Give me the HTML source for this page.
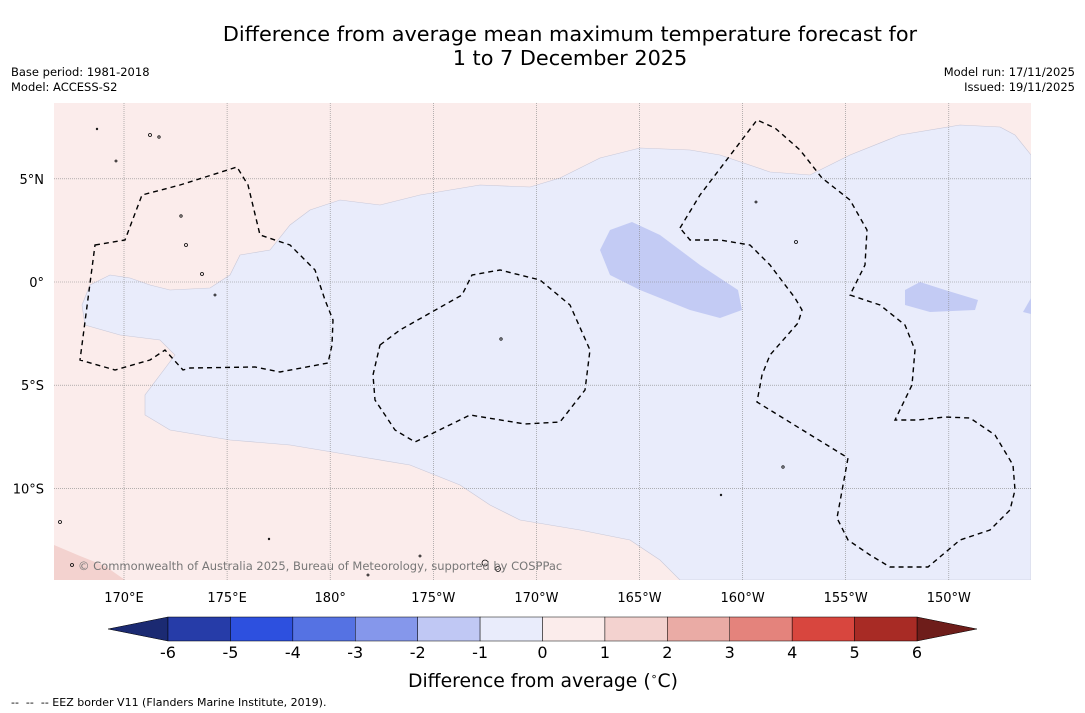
<!DOCTYPE html>
<html><head><meta charset="utf-8"><style>
body{margin:0;width:1085px;height:713px;background:#fff;font-family:"DejaVu Sans","Liberation Sans",sans-serif;overflow:hidden;position:relative}
.t{position:absolute;white-space:nowrap}
</style></head><body>
<div class="t" style="left:0;width:1140px;text-align:center;top:22px;font-size:20.8px;line-height:24px;color:#000">Difference from average mean maximum temperature forecast for<br>1 to 7 December 2025</div>
<div class="t" style="left:11px;top:65px;font-size:11.5px;line-height:15px">Base period: 1981-2018<br>Model: ACCESS-S2</div>
<div class="t" style="right:10px;top:65px;font-size:11.5px;line-height:15px;text-align:right">Model run: 17/11/2025<br>Issued: 19/11/2025</div>
<svg id="map" width="1085" height="713" style="position:absolute;left:0;top:0" font-family="DejaVu Sans, sans-serif">
<defs><clipPath id="c"><rect x="54" y="103" width="977" height="477"/></clipPath></defs>
<g clip-path="url(#c)">
<rect x="54" y="103" width="977" height="477" fill="#fbeceb"/>
<path d="M54,545 L80,556 L105,566 L125,580 L54,580Z" fill="#f3d2cf"/>
<path fill="#e9ecfb" stroke="#c8c8d8" stroke-width="0.6" d="M1031,155 L1015,135 L1000,127 L960,125 L900,135 L850,155 L810,175 L770,172 L720,155 L690,150 L640,148 L600,158 L560,178 L530,187 L480,185 L420,195 L380,205 L340,200 L310,210 L290,225 L270,250 L240,255 L230,275 L210,288 L170,290 L150,285 L130,278 L110,275 L90,285 L82,305 L85,325 L120,335 L160,340 L175,355 L160,375 L145,395 L145,415 L170,430 L230,440 L290,445 L350,455 L410,465 L460,485 L490,505 L520,520 L580,530 L630,540 L660,560 L680,580 L1031,580Z"/>
<path fill="#c3cbf4" d="M600,250 L610,230 L632,222 L660,235 L700,265 L738,290 L742,310 L720,318 L690,310 L640,290 L610,275Z"/>
<path fill="#c3cbf4" d="M905,290 L920,282 L945,290 L978,300 L975,310 L930,312 L905,305Z"/>
<path fill="#c3cbf4" d="M1023,312 L1031,298 L1031,314Z"/>
<g id="grid" stroke="#888" stroke-width="0.6" stroke-dasharray="1,1"></g>
<g fill="none" stroke="#000" stroke-width="1.4" stroke-dasharray="5,4">
<path d="M95,245 L125,240 L142,195 L180,185 L237,167 L248,185 L260,235 L290,245 L315,270 L325,300 L333,320 L332,345 L328,363 L280,372 L255,367 L190,368 L183,370 L165,350 L150,360 L115,370 L80,360Z"/>
<path d="M380,345 L400,330 L462,295 L472,275 L500,270 L540,280 L570,305 L590,350 L585,390 L560,422 L525,424 L470,415 L415,442 L395,430 L375,400 L373,375Z"/>
<path d="M680,228 L700,195 L757,120 L775,128 L800,150 L822,178 L850,200 L867,230 L865,265 L850,295 L880,305 L905,325 L915,350 L912,385 L895,420 L918,420 L945,417 L970,418 L995,435 L1013,465 L1015,490 L1010,510 L990,530 L960,540 L928,567 L890,567 L870,555 L848,540 L837,518 L848,458 L757,402 L762,375 L770,355 L798,323 L802,310 L795,298 L770,265 L750,245 L720,240 L690,240Z"/>
</g>
<g fill="none" stroke="#000" stroke-width="0.8">
<circle cx="150" cy="135" r="1.5"/><circle cx="159" cy="137" r="1.2"/><circle cx="186" cy="245" r="1.5"/><circle cx="202" cy="274" r="1.5"/><circle cx="215" cy="295" r="1"/><circle cx="501" cy="339" r="1.2"/><circle cx="756" cy="202" r="1"/><circle cx="796" cy="242" r="1.5"/><circle cx="783" cy="467" r="1.2"/><circle cx="721" cy="495" r="0.8"/><circle cx="60" cy="522" r="1.5"/><circle cx="485" cy="563" r="3"/><circle cx="498" cy="569" r="2.5"/><circle cx="72" cy="565" r="1.5"/><circle cx="269" cy="539" r="0.8"/><circle cx="181" cy="216" r="1.2"/><circle cx="116" cy="161" r="1"/><circle cx="97" cy="129" r="0.8"/><circle cx="420" cy="556" r="1"/><circle cx="368" cy="575" r="1"/>
</g>
</g>
<text x="78" y="570" font-size="11.5" fill="#777">© Commonwealth of Australia 2025, Bureau of Meteorology, supported by COSPPac</text>
<g id="axes" font-size="13" fill="#000"></g>
<g id="cbar"></g>
<text x="543" y="687" text-anchor="middle" font-size="18.8">Difference from average (<tspan font-size="11" dy="-7">∘</tspan><tspan dy="7">C)</tspan></text>
<text x="11" y="706" font-size="11" style="white-space:pre">--  --  -- EEZ border V11 (Flanders Marine Institute, 2019).</text>
</svg>
<script>
const lonLabels=["170°E","175°E","180°","175°W","170°W","165°W","160°W","155°W","150°W"];
const lonValues=[170,175,180,185,190,195,200,205,210];
const latLabels=["5°N","0°","5°S","10°S"];
const latValues=[5,0,-5,-10];
const levels=[-6,-5,-4,-3,-2,-1,0,1,2,3,4,5,6];
const levelColors=["#263ca8","#2d50df","#5572e3","#8597eb","#c0c8f4","#e9ecfb","#fbeceb","#f3d2cf","#eaaba5","#e4837c","#d8463e","#a82b25"];
const extLow="#1b2a72",extHigh="#6e1d1a";
const NS="http://www.w3.org/2000/svg";
const xLon=l=>124+(l-170)*103.1/5;
const yLat=l=>282-l*103.2/5;
function mk(t,a,p){const e=document.createElementNS(NS,t);for(const k in a)e.setAttribute(k,a[k]);p.appendChild(e);return e;}
const grid=document.getElementById('grid'),axes=document.getElementById('axes'),cb=document.getElementById('cbar');
lonValues.forEach((v,i)=>{const x=xLon(v);
 const l=mk('line',{x1:x,x2:x,y1:103,y2:580},grid);
 
 
 const t=mk('text',{x:x,y:602,'text-anchor':'middle'},axes);t.textContent=lonLabels[i];
 
 });
latValues.forEach((v,i)=>{const y=yLat(v);
 const l=mk('line',{x1:54,x2:1031,y1:y,y2:y},grid);
 
 
 const t=mk('text',{x:44,y:y+5,'text-anchor':'end'},axes);t.textContent=latLabels[i];
 
 });
const cx0=168,cx1=917,cy=617,ch=24;
const cxv=v=>cx0+(v-levels[0])*(cx1-cx0)/(levels[levels.length-1]-levels[0]);
const lo=mk('polygon',{points:`${cx0},${cy} ${cx0},${cy+ch} 108,${cy+ch/2}`,fill:extLow,stroke:'#000','stroke-width':0.5},cb);


const hi=mk('polygon',{points:`${cx1},${cy} ${cx1},${cy+ch} 977,${cy+ch/2}`,fill:extHigh,stroke:'#000','stroke-width':0.5},cb);


levelColors.forEach((c,i)=>{const x=cxv(levels[i]),w=cxv(levels[i+1])-x;
 const r=mk('rect',{x:x,y:cy,width:w,height:ch,fill:c,stroke:'#000','stroke-width':0.5},cb);
 
 });
levels.forEach(v=>{const t=mk('text',{x:cxv(v),y:658,'text-anchor':'middle','font-size':16},cb);t.textContent=v;
 
 });
</script>
</body></html>
